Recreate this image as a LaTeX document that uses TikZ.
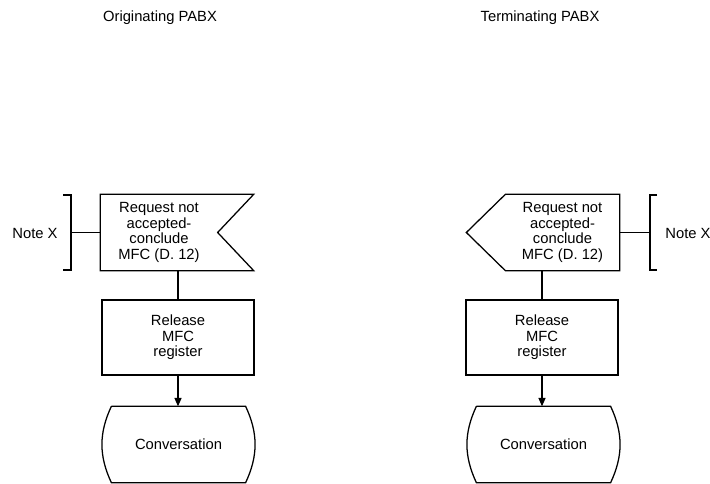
\documentclass[tikz,border=0pt]{standalone}
\usepackage{fontspec}
\setmainfont{Liberation Sans}
\usetikzlibrary{arrows.meta}
\begin{document}
\begin{tikzpicture}[x=0.025cm, y=-0.025cm, line width=0.9pt,
    every node/.style={font=\fontsize{10.5}{11}\selectfont},
    sdlbox/.style={rectangle, minimum width=3.8cm, minimum height=1.875cm, align=center, inner sep=0pt},
    flagbox/.style={rectangle, minimum height=1.875cm, align=center, inner sep=0pt},
    statebox/.style={rectangle, minimum width=3.325cm, minimum height=1.875cm, inner sep=0pt},
    flow/.style={-{Triangle[length=6pt,width=5pt]}}]
    \useasboundingbox (0,0) rectangle (710,484);

    % Titles
    \node (titleL) at (160,18) {Originating PABX};
    \node (titleR) at (540,18) {Terminating PABX};

    % Originating side (left)
    \node[flagbox, minimum width=2.9cm] (reqL) at (159,232.5) {Request not\\accepted-\\conclude\\MFC (D. 12)};
    \draw (reqL.north west) -- ([xshift=0.9cm]reqL.north east) -- (reqL.east)
          -- ([xshift=0.9cm]reqL.south east) -- (reqL.south west) -- cycle;
    \node[sdlbox, draw] (relL) at (178,337.5) {Release\\MFC\\register};
    \node[statebox] (convL) at (178.5,444.5) {Conversation};
    \draw (convL.north west) -- (convL.north east) to[bend left=25] (convL.south east)
          -- (convL.south west) to[bend left=25] (convL.north west);

    \node (noteL) at (35,233) {Note X};
    \draw (63,195) -- (71,195) -- (71,270) -- (63,270);
    \coordinate (brkL) at (71,232.5);
    \draw (brkL) -- (reqL.west);

    \draw (relL.north |- reqL.south) -- (relL.north);
    \draw[flow] (relL.south) -- (relL.south |- convL.north);

    % Terminating side (right)
    \node[flagbox, minimum width=2.825cm] (reqR) at (562.5,232.5) {Request not\\accepted-\\conclude\\MFC (D. 12)};
    \draw (reqR.north east) -- (reqR.north west) -- ([xshift=-0.975cm]reqR.west)
          -- (reqR.south west) -- (reqR.south east) -- cycle;
    \node[sdlbox, draw] (relR) at (542,337.5) {Release\\MFC\\register};
    \node[statebox] (convR) at (543.5,444.5) {Conversation};
    \draw (convR.north west) -- (convR.north east) to[bend left=25] (convR.south east)
          -- (convR.south west) to[bend left=25] (convR.north west);

    \node (noteR) at (688,233) {Note X};
    \draw (657,195) -- (650,195) -- (650,270) -- (657,270);
    \coordinate (brkR) at (650,232.5);
    \draw (reqR.east) -- (brkR);

    \draw (relR.north |- reqR.south) -- (relR.north);
    \draw[flow] (relR.south) -- (relR.south |- convR.north);
\end{tikzpicture}
\end{document}
